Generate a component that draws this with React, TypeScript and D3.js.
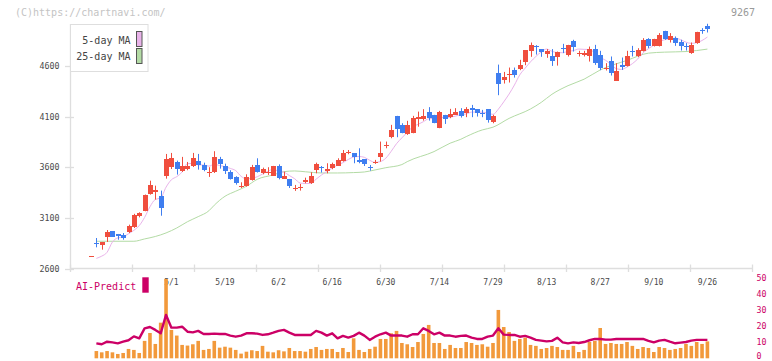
import React from 'react';
import * as d3 from 'd3';

// ---- Candles (index 0..115, trading days 2025-04 .. 2025-09-26) ----
const opens = [2720,2856,2834,2908,2967,2941,2934,2958,3010,3116,3171,3339,3359,3319,3517,3603,3652,3560,3580,3610,3659,3620,3553,3553,3682,3616,3553,3500,3402,
  3415,3474,3622,3547,3550,3517,3616,3484,3484,3392,3402,3451,3441,3573,3598,3566,3596,3616,3662,3754,3738,3672,3679,3598,3639,3699,3820,
  3902,4107,4018,3925,3942,4074,4074,4143,4117,3991,4117,4094,4117,4156,4140,4186,4173,4135,4173,4050,
  4531,4465,4519,4558,4574,4640,4746,4798,4766,4713,4700,4686,4777,4703,4848,4726,4703,4693,4769,4709,4578,4650,4456,4610,4600,4744,4693,4749,4868,4792,4798,4947,4851,4874,4835,4798,4732,4831,4957,4990];
const highs = [2722,2901,2862,2980,2970,2941,2950,3033,3140,3155,3330,3467,3418,3369,3731,3741,3665,3702,3652,3741,3731,3645,3600,3758,3702,3635,3570,3511,3451,
  3530,3623,3688,3596,3600,3613,3628,3556,3484,3425,3435,3497,3550,3645,3612,3639,3645,3688,3770,3770,3738,3787,3679,3622,3672,3853,3853,
  4018,4107,4034,4058,4107,4149,4173,4193,4117,4156,4117,4176,4183,4183,4193,4215,4173,4166,4173,4117,
  4613,4541,4584,4584,4660,4756,4831,4805,4766,4766,4766,4742,4818,4808,4858,4749,4749,4791,4808,4749,4627,4693,4627,4683,4749,4798,4775,4874,4874,4868,4924,4947,4924,4891,4858,4825,4831,4937,4973,5016];
const lows = [2718,2809,2786,2862,2911,2884,2884,2950,3000,3105,3165,3329,3280,3121,3487,3582,3527,3553,3570,3602,3576,3560,3504,3543,3586,3533,3478,3428,3395,
  3408,3468,3547,3530,3524,3517,3480,3484,3395,3366,3369,3441,3435,3540,3547,3540,3580,3612,3655,3728,3639,3639,3612,3566,3633,3655,3787,
  3886,3896,3935,3919,3935,4000,4060,4060,4034,3985,4027,4084,4117,4090,4094,4094,4100,4094,4040,4034,
  4311,4426,4436,4485,4558,4607,4690,4712,4690,4680,4600,4603,4726,4693,4742,4693,4693,4643,4610,4558,4555,4505,4456,4561,4594,4693,4687,4742,4775,4792,4792,4857,4831,4798,4752,4752,4719,4818,4917,4930];
const closes = [2720,2854,2859,2961,2914,2924,2901,3017,3128,3148,3326,3428,3379,3200,3682,3692,3582,3609,3612,3692,3620,3576,3553,3699,3635,3566,3487,3445,3418,
  3507,3600,3556,3583,3550,3613,3497,3514,3415,3392,3402,3474,3514,3629,3596,3583,3629,3672,3744,3754,3705,3655,3629,3596,3655,3744,3820,
  3968,3975,3942,4018,4084,4094,4107,4090,4034,4143,4074,4127,4143,4110,4173,4166,4133,4133,4067,4107,
  4426,4492,4519,4515,4607,4756,4805,4782,4739,4749,4647,4742,4775,4808,4782,4726,4726,4769,4627,4578,4578,4528,4554,4587,4700,4742,4759,4858,4792,4868,4907,4867,4897,4831,4792,4785,4808,4930,4940,4963];

// 5-day MA: first points (window reaches before the shown range)
const ma5Head = [2700, 2722, 2760];
// 25-day MA: [index, value]
const ma25Idx = [1,8,10,12,14,16,18,20,22,23,25,27,29,31,34,36,38,40,43,46,49,51,53,55,58,59,64,67,69,70,73,75,78,82,84,86,89,92,95,100,104,107,111,115];
const ma25Val = [2869,2869,2892,2916,2951,3000,3062,3112,3170,3225,3313,3363,3412,3480,3524,3556,3563,3555,3543,3543,3547,3553,3573,3595,3626,3655,3754,3837,3876,3902,3968,3995,4082,4175,4240,4320,4405,4469,4560,4655,4726,4736,4742,4766];

const dateTickIdx = [15,25,35,45,55,65,75,85,95,105,115];
const dateTickLabels = ['5/1','5/19','6/2','6/16','6/30','7/14','7/29','8/13','8/27','9/10','9/26'];
const priceTicks = [2600,3100,3600,4100,4600];

// AI-Predict panel, index 1..115
const aiBars = [4.5,3.7,4.5,3.7,2.7,3.3,5.8,5.2,3.3,10.8,15.7,8.9,22.1,49.2,17.6,14.1,8.3,7.9,8.7,10.8,5.2,5.8,10.8,6.6,7.2,6.6,5.2,2.9,4.1,5.0,4.5,
  7.7,4.1,3.7,5.0,4.3,6.4,4.5,4.5,4.1,5.8,7.0,5.2,5.8,5.8,3.9,6.4,3.9,12.4,5.2,3.9,5.8,7.2,12.0,12.0,15.5,17.0,9.5,8.7,7.0,10.1,15.1,20.7,9.5,9.5,5.8,8.3,6.4,6.4,10.1,9.5,8.3,8.7,7.2,9.5,30.0,19.4,16.3,
  10.8,12.0,12.8,8.3,7.7,5.8,6.4,7.7,7.0,5.2,5.2,7.7,3.9,5.2,10.1,10.8,18.8,8.9,9.5,8.9,8.9,10.1,7.7,5.8,7.0,6.4,3.9,7.0,6.4,5.2,5.8,6.4,8.9,7.7,10.1,8.9,10.5];
const aiLine = [9.3,8.7,10.3,9.9,9.3,10.3,11.2,13.6,12.4,18.6,19.4,17.6,15.5,26.9,19.0,19.0,19.6,16.5,16.1,17.0,15.1,15.1,15.3,15.1,15.1,14.1,13.4,14.1,15.5,15.5,15.3,
  14.5,14.9,15.9,17.0,17.6,15.9,14.5,14.5,14.5,14.5,17.0,15.9,14.1,15.5,12.4,13.9,12.8,13.9,15.9,14.1,11.4,13.4,14.9,15.9,14.1,14.1,14.1,13.4,14.9,14.9,18.6,17.0,14.9,15.9,14.1,14.1,13.4,13.9,14.1,12.8,12.0,12.0,13.4,14.1,18.6,14.7,14.5,
  14.5,13.4,13.9,12.8,11.4,11.0,10.5,10.8,12.8,9.9,9.3,9.9,9.5,10.1,11.2,12.0,12.0,11.6,11.6,12.0,12.0,12.0,12.0,12.0,12.0,10.8,9.9,11.0,11.4,10.3,9.3,9.7,10.1,11.0,11.4,11.4,11.4];
const aiTicks = [0,10,20,30,40,50];

const RED = '#f04e3e';
const BLUE = '#3f7ef0';
const PINK = '#e9b3ea';
const GREEN = '#b3dba5';
const CRIMSON = '#cc0066';
const ORANGE = '#f2993b';
const AXIS = '#dedede';
const FONT = "'DejaVu Sans Mono', monospace";

export default function App() {
  const x = d3.scaleLinear().domain([0, 115]).range([91, 707.4]);
  const y = d3.scaleLinear().domain([2600, 5000]).range([268.5, 25.4]);
  const yb = d3.scaleLinear().domain([0, 50]).range([358.3, 277.7]);
  const gridX = d3.scaleLinear().domain([0, 11]).range([70.5, 752.5]);

  const ma5: [number, number][] = [];
  ma5Head.forEach((v, k) => ma5.push([k + 1, v]));
  for (let i = 4; i < closes.length; i++) {
    ma5.push([i, d3.mean(closes.slice(i - 4, i + 1)) as number]);
  }
  const ma25: [number, number][] = ma25Idx.map((i, k) => [i, ma25Val[k]]);

  const priceLine = d3.line<[number, number]>().x(d => x(d[0])).y(d => y(d[1])).curve(d3.curveMonotoneX);
  const aiPts: [number, number][] = aiLine.map((v, k) => [k + 1, v]);
  const aiPath = d3.line<[number, number]>().x(d => x(d[0])).y(d => yb(d[1]))(aiPts) as string;

  return (
    <svg width={772} height={361} style={{ position: 'absolute', left: 0, top: 0, background: '#fff' }} fontFamily={FONT}>
      <rect x={0} y={0} width={772} height={361} fill="#fff" />
      <text x={15} y={12.5} fontSize={10} fill="#c4c4c4" dominantBaseline="central">(C)https://chartnavi.com/</text>
      <text x={755} y={12.5} fontSize={10} fill="#9a9a9a" textAnchor="end" dominantBaseline="central">9267</text>

      {/* axes */}
      <line x1={70.5} x2={70.5} y1={24} y2={269} stroke={AXIS} strokeWidth={1.3} />
      <line x1={70} x2={752.5} y1={268.5} y2={268.5} stroke={AXIS} strokeWidth={1.3} />
      {d3.range(12).map(k => (
        <line key={'g' + k} x1={gridX(k)} x2={gridX(k)} y1={264.5} y2={272} stroke={AXIS} strokeWidth={1.3} />
      ))}
      {priceTicks.map(p => (
        <g key={'p' + p}>
          <line x1={65} x2={74} y1={Math.round(y(p)) + 0.5} y2={Math.round(y(p)) + 0.5} stroke={AXIS} strokeWidth={1.3} />
          <text x={59.5} y={y(p)} fontSize={8.3} fill="#4a4a4a" textAnchor="end" dominantBaseline="central">{p}</text>
        </g>
      ))}
      {dateTickIdx.map((i, k) => (
        <text key={'d' + k} x={x(i)} y={282} fontSize={8} fill="#4a4a4a" textAnchor="middle" dominantBaseline="central">{dateTickLabels[k]}</text>
      ))}

      {/* moving averages */}
      <path d={priceLine(ma25) as string} fill="none" stroke={GREEN} strokeWidth={1} />
      <path d={priceLine(ma5) as string} fill="none" stroke={PINK} strokeWidth={1} />

      {/* candles */}
      {closes.map((c, i) => {
        const o = opens[i];
        const cx = Math.round(x(i));
        const col = c >= o ? RED : BLUE;
        const top = Math.round(y(Math.max(o, c)));
        const bot = Math.round(y(Math.min(o, c)));
        return (
          <g key={'c' + i}>
            <line x1={cx + 0.5} x2={cx + 0.5} y1={y(highs[i])} y2={y(lows[i])} stroke={col} strokeWidth={1} />
            <rect x={cx - 2} y={top} width={5} height={Math.max(1, bot - top)} fill={col} shapeRendering="crispEdges" />
          </g>
        );
      })}

      {/* legend */}
      <rect x={70.5} y={24.5} width={77.5} height={47} fill="#fff" stroke={AXIS} strokeWidth={1} />
      <text x={130.5} y={40.5} fontSize={10} fill="#444" textAnchor="end" dominantBaseline="central">5-day MA</text>
      <rect x={136.5} y={31.5} width={5.5} height={15} fill={PINK} stroke="#555" strokeWidth={1} />
      <text x={130.5} y={56.5} fontSize={10} fill="#444" textAnchor="end" dominantBaseline="central">25-day MA</text>
      <rect x={136.5} y={48.5} width={5.5} height={15} fill={GREEN} stroke="#555" strokeWidth={1} />

      {/* AI-Predict panel */}
      {aiBars.map((v, k) => (
        <rect key={'b' + k} x={x(k + 1) - 1.8} y={yb(v)} width={3.6} height={yb(0) - yb(v)} fill={ORANGE} />
      ))}
      <path d={aiPath} fill="none" stroke={CRIMSON} strokeWidth={2.4} strokeLinejoin="round" />
      <text x={76} y={286} fontSize={10} fill={CRIMSON} dominantBaseline="central">AI-Predict</text>
      <rect x={142.3} y={277.3} width={6.4} height={15.4} fill={CRIMSON} />
      {aiTicks.map(t => (
        <text key={'a' + t} x={756.5} y={Math.min(yb(t), 356)} fontSize={8.3} fill={CRIMSON} dominantBaseline="central">{t}</text>
      ))}
    </svg>
  );
}
